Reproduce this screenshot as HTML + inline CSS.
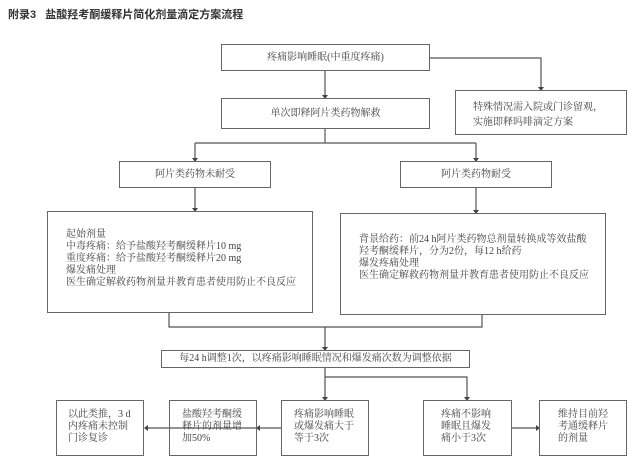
<!DOCTYPE html>
<html><head><meta charset="utf-8"><style>
body{margin:0;width:640px;height:463px;background:#fff;position:relative;overflow:hidden;font-family:"Liberation Serif","Noto Serif CJK SC",serif;color:#444;}
.b{position:absolute;border:1px solid #666;box-sizing:border-box;font-size:10px;line-height:12px;}
.c{display:flex;align-items:center;justify-content:center;text-align:center;}
.t{position:absolute;left:8px;top:6px;font:bold 11px "Liberation Sans","Noto Sans CJK SC",sans-serif;color:#333;}
</style></head><body>
<div class="t">附录3&nbsp;&nbsp;&nbsp;盐酸羟考酮缓释片简化剂量滴定方案流程</div>
<svg width="640" height="463" style="position:absolute;left:0;top:0">
<g stroke="#555" stroke-width="1.2" fill="none">
<path d="M325 71V96"/><path d="M430 58H541V88"/>
<path d="M325 129V143M195 143H476M195 143V159M476 143V159"/>
<path d="M195 188V209M476 188V211"/>
<path d="M169 313V327H482V315M325 327V348"/>
<path d="M325 368V398M325 377H467V398"/>
<path d="M281 428H147M169 428H147"/><path d="M512 428H537"/>
</g>
<g fill="#444">
<path d="M322 95L328 95L325 99Z"/><path d="M538 87L544 87L541 91Z"/>
<path d="M192 158L198 158L195 162Z"/><path d="M473 158L479 158L476 162Z"/>
<path d="M192 208L198 208L195 212Z"/><path d="M473 210L479 210L476 214Z"/>
<path d="M322 347L328 347L325 351Z"/>
<path d="M322 397L328 397L325 401Z"/><path d="M464 397L470 397L467 401Z"/>
<path d="M260 425L260 431L256 428Z"/><path d="M148 425L148 431L144 428Z"/>
<path d="M536 425L536 431L540 428Z"/>
</g></svg>
<div class="b c" style="left:221px;top:44px;width:209px;height:27px">疼痛影响睡眠(中重度疼痛)</div>
<div class="b c" style="left:221px;top:98px;width:209px;height:31px">单次即释阿片类药物解救</div>
<div class="b" style="left:455px;top:90px;width:172px;height:45px;padding:9px 0 0 17px;line-height:15px">特殊情况需入院或门诊留观，<br>实施即释吗啡滴定方案</div>
<div class="b c" style="left:119px;top:161px;width:152px;height:27px">阿片类药物未耐受</div>
<div class="b c" style="left:400px;top:161px;width:152px;height:27px">阿片类药物耐受</div>
<div class="b" style="left:47px;top:211px;width:266px;height:102px;padding:17px 0 0 18px">起始剂量<br>中毒疼痛：给予盐酸羟考酮缓释片10 mg<br>重度疼痛：给予盐酸羟考酮缓释片20 mg<br>爆发痛处理<br>医生确定解救药物剂量并教育患者使用防止不良反应</div>
<div class="b" style="left:340px;top:213px;width:266px;height:102px;padding:20px 0 0 18px">背景给药：前24 h阿片类药物总剂量转换成等效盐酸<br>羟考酮缓释片，分为2份，每12 h给药<br>爆发疼痛处理<br>医生确定解救药物剂量并教育患者使用防止不良反应</div>
<div class="b c" style="left:161px;top:350px;width:309px;height:18px">每24 h调整1次，以疼痛影响睡眠情况和爆发痛次数为调整依据</div>
<div class="b" style="left:56px;top:400px;width:88px;height:56px;padding:8px 0 0 11px">以此类推，3 d<br>内疼痛未控制<br>门诊复诊</div>
<div class="b" style="left:169px;top:400px;width:88px;height:56px;padding:8px 0 0 12px">盐酸羟考酮缓<br>释片的剂量增<br>加50%</div>
<div class="b" style="left:281px;top:400px;width:88px;height:56px;padding:8px 0 0 12px">疼痛影响睡眠<br>或爆发痛大于<br>等于3次</div>
<div class="b" style="left:423px;top:400px;width:89px;height:56px;padding:8px 0 0 17px">疼痛不影响<br>睡眠且爆发<br>痛小于3次</div>
<div class="b" style="left:539px;top:400px;width:88px;height:56px;padding:8px 0 0 18px">维持目前羟<br>考通缓释片<br>的剂量</div>
</body></html>
